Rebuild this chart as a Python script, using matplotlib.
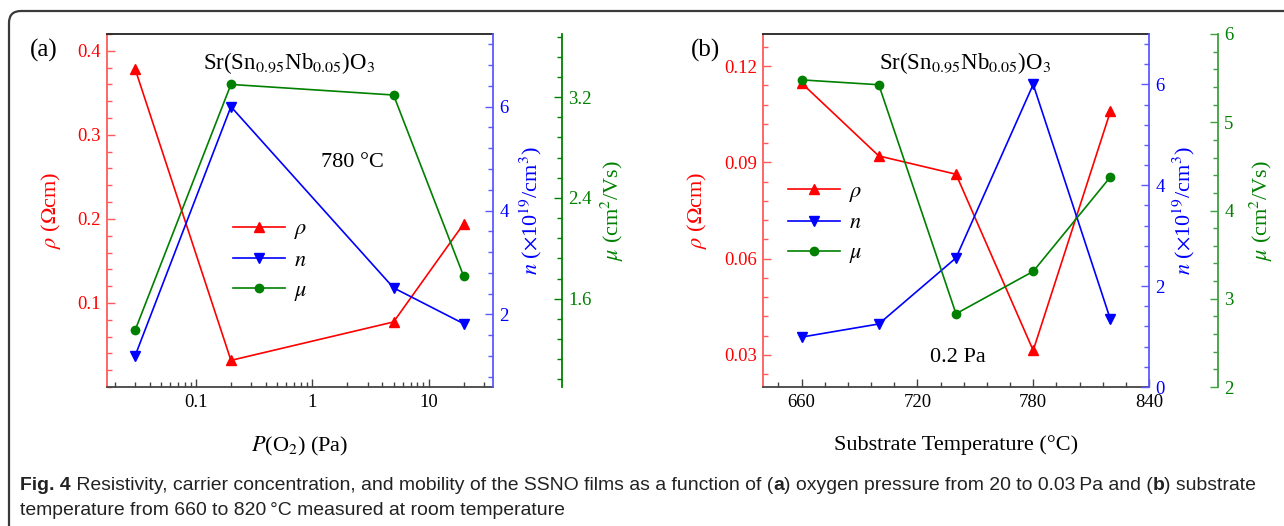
import matplotlib
matplotlib.use("Agg")
import matplotlib.pyplot as plt
from matplotlib.patches import FancyBboxPatch
from matplotlib.transforms import IdentityTransform
from matplotlib.ticker import MultipleLocator, FixedLocator, NullFormatter

plt.rcParams['font.family'] = ['Liberation Serif', 'DejaVu Serif']
plt.rcParams['mathtext.fontset'] = 'stix'

# panel (a): oxygen pressure series at 780 C
p_o2 = [0.03, 0.2, 5, 20]
rho_a = [0.3785, 0.0317, 0.0774, 0.194]
n_a = [1.2, 6.0, 2.51, 1.82]
mu_a = [1.35, 3.30, 3.216, 1.78]

# panel (b): substrate temperature series at 0.2 Pa
temp = [660, 700, 740, 780, 820]
rho_b = [0.1147, 0.092, 0.0863, 0.0314, 0.1059]
n_b = [0.99, 1.25, 2.56, 6.0, 1.34]
mu_b = [5.48, 5.425, 2.83, 3.31, 4.38]

xticks_a = [0.1, 1, 10]
xticklabels_a = ['0.1', '1', '10']
xticks_b = [660, 720, 780, 840]
rho_ticks_a = [0.1, 0.2, 0.3, 0.4]

RED, BLUE, GREEN = '#ff0000', '#0000ff', '#008000'
TICK = 13.5
LAB = 16

fig = plt.figure(figsize=(12.84, 5.26), dpi=100)
W, H = 1284, 526


def px_axes(left, top, right, bottom):
    return fig.add_axes([left / W, 1 - bottom / H, (right - left) / W, (bottom - top) / H])


def style_axis(ax, color, spine_color, side):
    ax.tick_params(axis='y', which='both', direction='in', colors=color, labelsize=TICK, pad=4.5)
    ax.tick_params(axis='y', which='major', length=6, width=1, color=spine_color)
    ax.tick_params(axis='y', which='minor', length=3.3, width=1, color=spine_color)
    ax.spines[side].set_color(spine_color)
    ax.spines[side].set_linewidth(1.3)


def panel(left, x, rho, n, mu, rho_lim, n_lim, mu_lim, rho_steps, n_steps, mu_steps,
          spine_green, leg_xy):
    ax = px_axes(left, 34, left + 386, 387)
    ax_n = ax.twinx()
    ax_mu = ax.twinx()
    ax_mu.spines['right'].set_position(('axes', 1.179))
    for a in (ax_n, ax_mu):
        for s in ('left', 'top', 'bottom'):
            a.spines[s].set_visible(False)
    ax_mu.spines['right'].set_visible(True)
    ax.spines['right'].set_visible(False)
    ax.spines['top'].set_color('#222222')
    ax.spines['bottom'].set_color('#444444')
    ax.spines['top'].set_linewidth(1.3)
    ax.spines['bottom'].set_linewidth(1.3)

    l1, = ax.plot(x, rho, color=RED, marker='^', ms=7, lw=1.2, label=r'$\rho$')
    l2, = ax_n.plot(x, n, color=BLUE, marker='v', ms=7, lw=1.2, label=r'$n$')
    l3, = ax_mu.plot(x, mu, color=GREEN, marker='o', ms=6, lw=1.2, label=r'$\mu$')

    ax.set_ylim(*rho_lim)
    ax_n.set_ylim(*n_lim)
    ax_mu.set_ylim(*mu_lim)
    ax.yaxis.set_major_locator(MultipleLocator(rho_steps[0]))
    ax.yaxis.set_minor_locator(MultipleLocator(rho_steps[1]))
    ax_n.yaxis.set_major_locator(MultipleLocator(n_steps[0]))
    ax_n.yaxis.set_minor_locator(MultipleLocator(n_steps[1]))
    ax_mu.yaxis.set_major_locator(MultipleLocator(mu_steps[0]))
    ax_mu.yaxis.set_minor_locator(MultipleLocator(mu_steps[1]))

    style_axis(ax, RED, '#ff5a5a', 'left')
    style_axis(ax_n, BLUE, '#5a5aff', 'right')
    style_axis(ax_mu, GREEN, spine_green, 'right')
    ax.tick_params(axis='x', which='both', direction='in', colors='#444444',
                   labelcolor='black', labelsize=TICK, pad=5, top=False)
    ax.tick_params(axis='x', which='major', length=6, width=1)
    ax.tick_params(axis='x', which='minor', length=3.5, width=1)

    ax.set_ylabel(r'$\rho$ ($\Omega$cm)', color=RED, fontsize=LAB, va='center')
    ax_n.set_ylabel(r'$n$ ($\times$10$^{19}$/cm$^3$)', color=BLUE, fontsize=LAB, va='center')
    ax_mu.set_ylabel(r'$\mu$ (cm$^2$/Vs)', color=GREEN, fontsize=LAB, va='center')

    ax_mu.legend(handles=[l1, l2, l3], loc='center left', bbox_to_anchor=leg_xy,
                 frameon=False, fontsize=LAB, handlelength=2.35, handletextpad=0.4,
                 labelspacing=0.42, borderpad=0, borderaxespad=0)
    return ax, ax_n, ax_mu


ax, ax_n, ax_mu = panel(107, p_o2, rho_a, n_a, mu_a, (0, 0.42), (0.6, 7.4), (0.9, 3.7),
                        (0.1, 0.02), (2, 0.4), (0.8, 0.16), '#008000', (0.326, 0.357))
ax.yaxis.set_major_locator(FixedLocator(rho_ticks_a))
ax.set_xscale('log')
ax.set_xlim(0.0172, 35.8)
ax.set_xticks(xticks_a)
ax.set_xticklabels(xticklabels_a)
ax.xaxis.set_minor_formatter(NullFormatter())
ax.set_xlabel(r'$P$(O$_2$) (Pa)', fontsize=LAB)
ax.yaxis.set_label_coords(-0.145, 0.5)
ax_n.yaxis.set_label_coords(1.098, 0.5)
ax_mu.yaxis.set_label_coords(1.31, 0.5)
ax.xaxis.set_label_coords(0.5, -0.135)

bx, bx_n, bx_mu = panel(763, temp, rho_b, n_b, mu_b, (0.02, 0.13), (0, 7), (2, 6),
                        (0.03, 0.006), (2, 0.4), (1, 0.2), '#3ea03e', (0.064, 0.464))
bx.set_xlim(640, 840)
bx.set_xticks(xticks_b)
bx.xaxis.set_minor_locator(MultipleLocator(12))
bx.set_xlabel('Substrate Temperature (\u00b0C)', fontsize=LAB)
bx.yaxis.set_label_coords(-0.171, 0.5)
bx_n.yaxis.set_label_coords(1.091, 0.5)
bx_mu.yaxis.set_label_coords(1.29, 0.5)
bx.xaxis.set_label_coords(0.5, -0.135)

# panel annotations
fig.text(44 / W, 1 - 50 / H, '(a)', fontsize=18, ha='center', va='center')
fig.text(705 / W, 1 - 50 / H, '(b)', fontsize=18, ha='center', va='center')
formula = r'Sr(Sn$_{0.95}$Nb$_{0.05}$)O$_3$'
fig.text(289 / W, 1 - 63 / H, formula, fontsize=16.5, ha='center', va='center')
fig.text(965 / W, 1 - 63 / H, formula, fontsize=16.5, ha='center', va='center')
fig.text(352 / W, 1 - 162 / H, '780 \u00b0C', fontsize=16, ha='center', va='center')
fig.text(958 / W, 1 - 358 / H, '0.2 Pa', fontsize=16, ha='center', va='center')

# rounded frame around the figure
frame = FancyBboxPatch((9, -30), 1320, 526 - 11 + 30, boxstyle='round,pad=0,rounding_size=12',
                       transform=IdentityTransform(), fill=False, edgecolor='#3a3a3a',
                       linewidth=1.6, clip_on=False)
fig.patches.append(frame)

# caption
renderer = fig.canvas.get_renderer()


def caption_line(pieces, x0, y):
    x = x0
    for txt, bold in pieces:
        t = fig.text(x / W, 1 - y / H, txt, fontsize=13.95, family='Liberation Sans', color='#222222',
                     weight='bold' if bold else 'normal', va='baseline', ha='left')
        x += t.get_window_extent(renderer).width


caption_line([('Fig. 4', True), (' Resistivity, carrier concentration, and mobility of the SSNO films '
              'as a function of (', False), ('a', True),
              (') oxygen pressure from 20 to 0.03\u2009Pa and (', False), ('b', True),
              (') substrate', False)], 20, 490)
caption_line([('temperature from 660 to 820\u2009\u00b0C measured at room temperature', False)], 20, 515)

fig.savefig('out.png', dpi=100)
